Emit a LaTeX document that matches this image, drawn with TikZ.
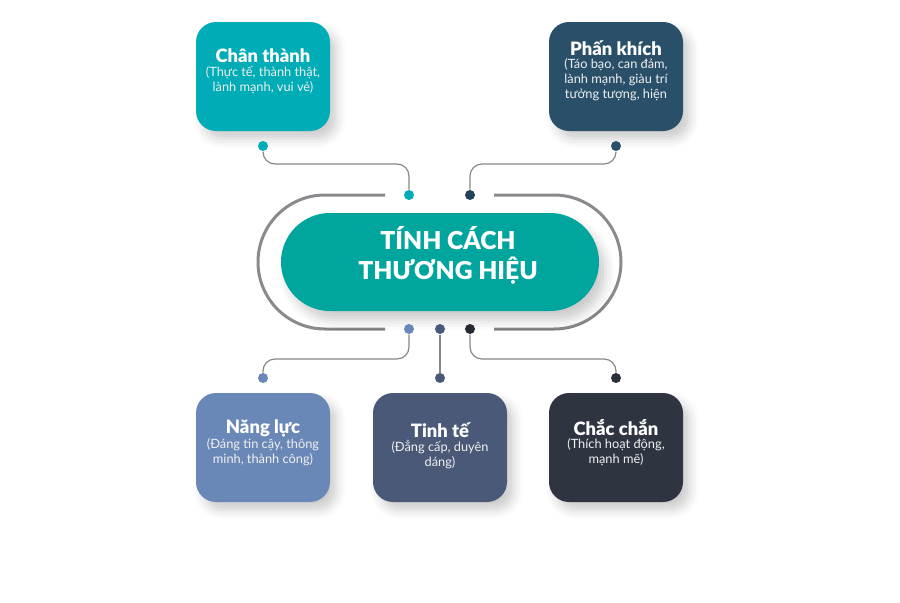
\documentclass[tikz,border=0pt]{standalone}
\usepackage{fontspec}
\setmainfont{Lato}[BoldFont={Lato Black}]
\usetikzlibrary{shapes.misc,shadows.blur}

\definecolor{cTeal}{RGB}{0,172,181}
\definecolor{cNavy}{RGB}{41,79,105}
\definecolor{cCore}{RGB}{0,166,157}
\definecolor{cSky}{RGB}{106,136,183}
\definecolor{cSlate}{RGB}{74,89,120}
\definecolor{cInk}{RGB}{46,53,64}
\definecolor{cRing}{RGB}{138,138,142}
\definecolor{cWire}{RGB}{135,135,135}

\tikzset{every picture/.style={line width=0.75pt}}
\tikzset{
  card/.style={rounded corners=15pt, minimum width=100.5pt, minimum height=81.75pt, inner sep=0pt,
    blur shadow={shadow xshift=5pt, shadow yshift=-6pt, shadow opacity=20, shadow blur radius=7pt}},
  pill/.style={rounded rectangle, fill=cCore, minimum width=238.5pt, minimum height=73.5pt, inner sep=0pt,
    blur shadow={shadow xshift=5pt, shadow yshift=-7pt, shadow opacity=20, shadow blur radius=7pt}},
  core text/.style={text=white, align=center, font=\fontsize{18.5}{22.5}\selectfont\bfseries, inner sep=0pt},
  ttl/.style={text=white, font=\fontsize{13.8}{15}\selectfont\bfseries, inner sep=0pt},
  sub/.style={text=white!88!gray, font=\fontsize{9.6}{11.3}\selectfont, align=center, inner sep=0pt, anchor=north},
  dot/.style={circle, inner sep=0pt, minimum size=7.5pt},
  ring/.style={draw=cRing, line width=2.25pt},
  wire/.style={draw=cWire, line width=0.9pt, rounded corners=9pt}
}

\begin{document}
\begin{tikzpicture}[x=0.75pt,y=0.75pt,yscale=-1,xscale=1]
	\useasboundingbox (0,0) rectangle (900,603);

	%Shape: Ring
	\draw[ring] (385,195) -- (325,195) arc (270:90:67) -- (385,329) ;
	\draw[ring] (494,195) -- (554,195) arc (270:450:67) -- (494,329) ;

	%Shape: Pill
	\node[pill] (core) at (440,262) {};
	% Text Node
	\node[core text] (coreT) at (448,255) {TÍNH CÁCH\\THƯƠNG HIỆU};

	%Shape: Rounded Rect
	\node[card, fill=cTeal] (chan) at (263,76.5) {};
	\node[card, fill=cNavy] (phan) at (616,76.5) {};
	\node[card, fill=cSky] (nang) at (263,447.5) {};
	\node[card, fill=cSlate] (tinh) at (440,447.5) {};
	\node[card, fill=cInk] (chac) at (616,447.5) {};

	% Text Node
	\node[ttl] (chanT) at (263,56) {Chân thành};
	\node[sub] at (263,66) {(Thực tế, thành thật,\\lành mạnh, vui vẻ)};
	% Text Node
	\node[ttl] (phanT) at (616,48) {Phấn khích};
	\node[sub] at (616,58) {(Táo bạo, can đảm,\\lành mạnh, giàu trí\\tưởng tượng, hiện};
	% Text Node
	\node[ttl] (nangT) at (263,428) {Năng lực};
	\node[sub] at (263,438) {(Đáng tin cậy, thông\\minh, thành công)};
	% Text Node
	\node[ttl] (tinhT) at (440,430) {Tinh tế};
	\node[sub] at (440,440) {(Đẳng cấp, duyên\\dáng)};
	% Text Node
	\node[ttl] (chacT) at (616,428) {Chắc chắn};
	\node[sub] at (616,438) {(Thích hoạt động,\\mạnh mẽ)};

	%Dots
	\node[dot, fill=cTeal] (chanD) at (263,146) {};
	\node[dot, fill=cNavy] (phanD) at (616,146) {};
	\node[dot, fill=cSky] (nangD) at (263,378) {};
	\node[dot, fill=cSlate] (tinhD) at (440,378) {};
	\node[dot, fill=cInk!90!black] (chacD) at (616,378) {};
	\node[dot, fill=cTeal] (topA) at (409,195) {};
	\node[dot, fill=cNavy!85!black] (topB) at (470,195) {};
	\node[dot, fill=cSky] (botA) at (409,329) {};
	\node[dot, fill=cSlate] (botB) at (440,329) {};
	\node[dot, fill=cInk!80!black] (botC) at (470,329) {};

	%Wires
	\coordinate (bendA) at (263,164);
	\coordinate (bendB) at (616,164);
	\coordinate (bendC) at (409,359);
	\coordinate (bendD) at (470,359);
	\draw[wire] (chanD.south) -- (bendA) -| (topA.north) ;
	\draw[wire] (phanD.south) -- (bendB) -| (topB.north) ;
	\draw[wire] (botA.south) -- (bendC) -| (nangD.north) ;
	\draw[wire] (botB.south) -- (tinhD.north) ;
	\draw[wire] (botC.south) -- (bendD) -| (chacD.north) ;

\end{tikzpicture}
\end{document}
